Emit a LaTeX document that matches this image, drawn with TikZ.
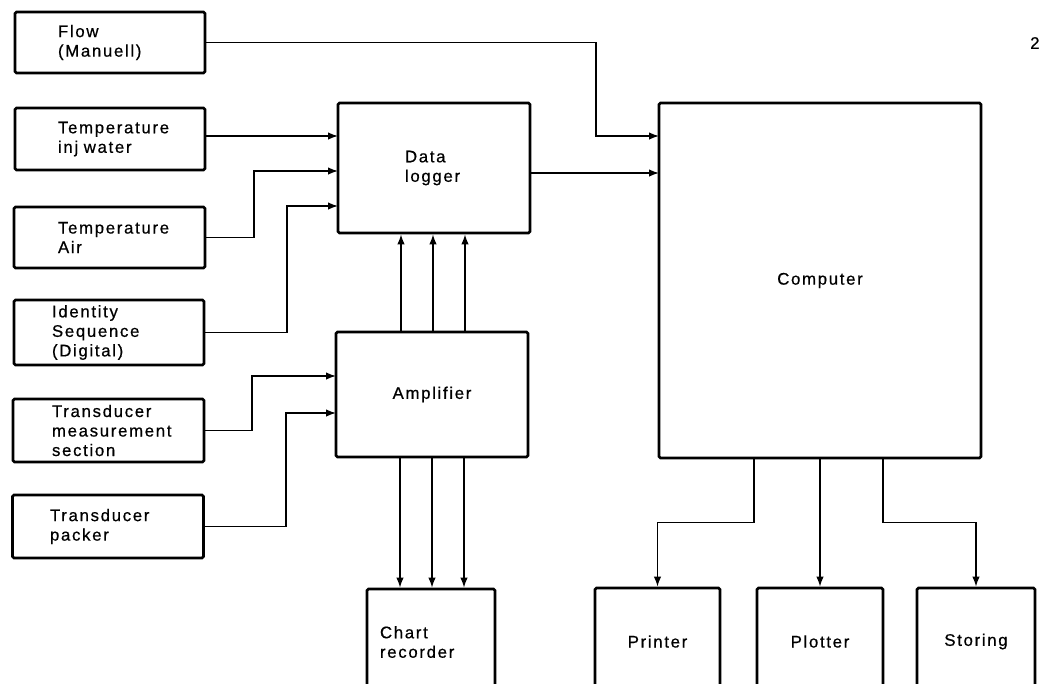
\documentclass[tikz,border=0pt]{standalone}
\usepackage{fontspec}
\setmainfont{Liberation Sans}[LetterSpace=10, FakeBold=0.6]
\usetikzlibrary{arrows.meta}
\begin{document}
\begin{tikzpicture}[x=1pt,y=-1pt,
  lbl/.style={font=\fontsize{16.8}{19.5}\selectfont},
  box/.style={lbl, draw, line width=2.8pt, rounded corners=1.5pt, inner sep=0pt, align=left},
  conn/.style={line width=1.4pt},
  arr/.style={conn, -{Latex[length=10pt,width=7.5pt]}}]
\useasboundingbox (0,0) rectangle (1039,683);
% left column
\node[box, minimum width=190, minimum height=61, text width=104] (flow) at (110,42.5) {Flow\\(Manuell)};
\node[box, minimum width=190, minimum height=62, text width=104] (tinj) at (110,139) {Temperature\\inj water};
\node[box, minimum width=191, minimum height=61, text width=103] (tair) at (109.5,237.5) {Temperature\\Air};
\node[box, minimum width=190, minimum height=65, text width=114] (ident) at (109,332.5) {Identity\\Sequence\\(Digital)};
\node[box, minimum width=191, minimum height=63, text width=113] (tmeas) at (108.5,430.5) {Transducer\\measurement\\section};
\node[box, minimum width=191, minimum height=63, text width=116] (tpack) at (108,526.5) {Transducer\\packer};
% middle
\node[box, minimum width=192, minimum height=130, text width=58] (dl) at (434,168) {Data\\logger};
\node[box, minimum width=192, minimum height=125] (amp) at (432,394.5) {Amplifier};
\node[box, minimum width=128, minimum height=106, text width=102] (chart) at (431,642) {Chart\\recorder};
% right
\node[box, minimum width=322, minimum height=355] (comp) at (820,280.5) {Computer};
\node[box, minimum width=125, minimum height=107] (printer) at (657.5,641.5) {Printer};
\node[box, minimum width=126, minimum height=107] (plotter) at (820,641.5) {Plotter};
\node[box, minimum width=118, minimum height=107] (storing) at (976,641.5) {Storing};
\node[lbl, anchor=west, inner sep=0pt] (pg) at (1030,43) {2};
% entry points
\coordinate (cin1) at (659,136);
\coordinate (cin2) at (659,173);
\coordinate (din1) at (338,136);
\coordinate (din2) at (338,171);
\coordinate (din3) at (338,206);
\coordinate (ain1) at (336,376);
\coordinate (ain2) at (336,413);
% connectors
\draw[arr] (flow.east) -| (596,136) -- (cin1);
\draw[arr] (dl.east |- cin2) -- (cin2);
\draw[arr] (tinj.east |- din1) -- (din1);
\draw[arr] (tair.east) -| (254,171) -- (din2);
\draw[arr] (ident.east) -| (287,206) -- (din3);
\draw[arr] (tmeas.east) -| (252,376) -- (ain1);
\draw[arr] (tpack.east) -| (286,413) -- (ain2);
\foreach \s in {-31,1,33}{
  \draw[arr] ([xshift=\s pt]amp.north) -- ([xshift=\s pt]amp.north |- dl.south);
}
\foreach \s in {-32,0,32}{
  \draw[arr] ([xshift=\s pt]amp.south) -- ([xshift=\s pt]amp.south |- chart.north);
}
\draw[arr] ([xshift=-66pt]comp.south) -- ++(0,63) -| (printer.north);
\draw[arr] (comp.south) -- (comp.south |- plotter.north);
\draw[arr] ([xshift=63pt]comp.south) -- ++(0,63) -| (storing.north);
\end{tikzpicture}
\end{document}
